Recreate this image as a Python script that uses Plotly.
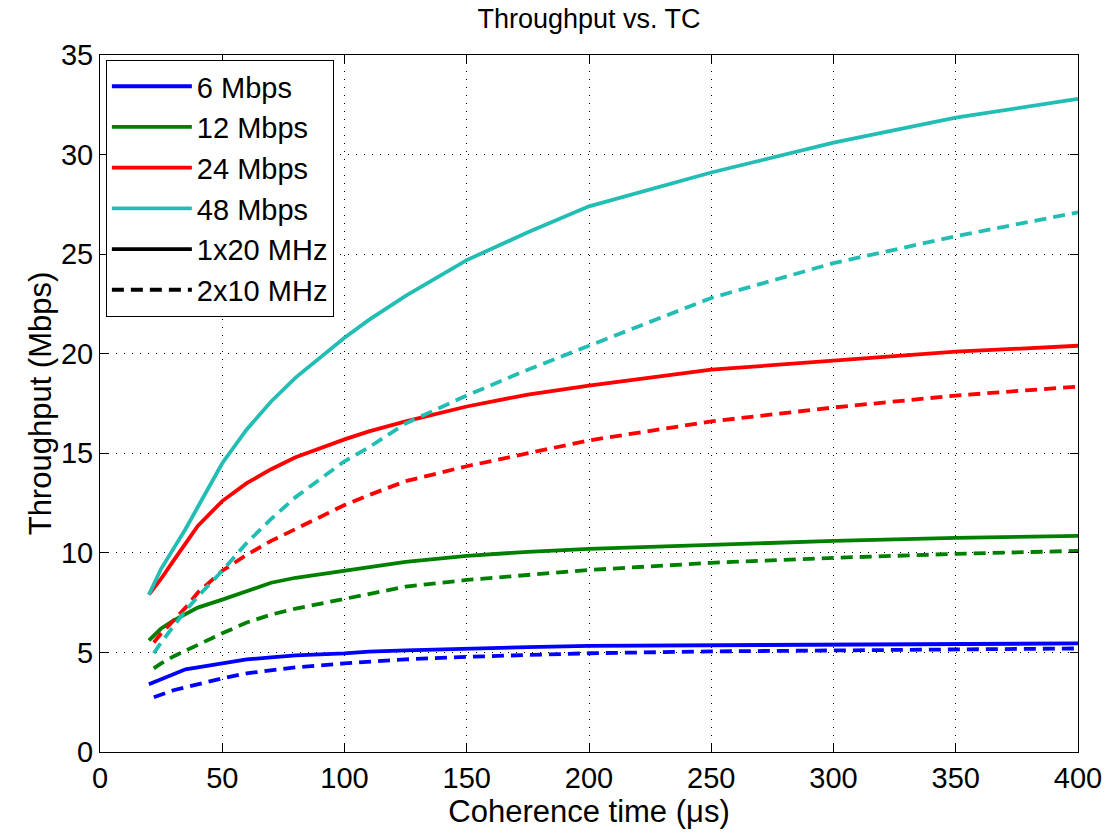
import plotly.graph_objects as go

# Coherence time (µs)
x_1x20 = [20, 25, 30, 35, 40, 50, 60, 70, 80, 100, 110, 125, 150, 175, 200, 250, 300, 350, 400]
x_2x10 = [22, 25, 30, 35, 40, 50, 60, 70, 80, 100, 110, 125, 150, 175, 200, 250, 300, 350, 400]

# Throughput (Mbps), 1x20 MHz (solid)
s6_1x20  = [3.4, 3.65, 3.95, 4.15, 4.25, 4.45, 4.65, 4.75, 4.85, 4.95, 5.04, 5.1, 5.2, 5.27, 5.33, 5.36, 5.4, 5.42, 5.45]
s12_1x20 = [5.6, 6.2, 6.6, 6.95, 7.25, 7.65, 8.1, 8.5, 8.75, 9.1, 9.3, 9.55, 9.85, 10.05, 10.2, 10.4, 10.6, 10.75, 10.85]
s24_1x20 = [7.9, 8.7, 9.6, 10.5, 11.35, 12.6, 13.5, 14.2, 14.8, 15.7, 16.1, 16.6, 17.35, 17.95, 18.4, 19.2, 19.65, 20.1, 20.4]
s48_1x20 = [7.9, 9.2, 10.2, 11.2, 12.3, 14.5, 16.2, 17.6, 18.8, 20.8, 21.7, 22.9, 24.7, 26.1, 27.4, 29.1, 30.6, 31.85, 32.8]

# Throughput (Mbps), 2x10 MHz (dashed)
s6_2x10  = [2.75, 2.9, 3.1, 3.25, 3.4, 3.7, 3.95, 4.1, 4.25, 4.45, 4.54, 4.65, 4.78, 4.88, 4.96, 5.05, 5.1, 5.15, 5.2]
s12_2x10 = [4.2, 4.45, 4.8, 5.1, 5.4, 5.96, 6.5, 6.9, 7.2, 7.7, 7.95, 8.3, 8.64, 8.9, 9.14, 9.5, 9.75, 9.95, 10.1]
s24_2x10 = [5.5, 5.95, 6.6, 7.25, 8.0, 9.1, 9.9, 10.6, 11.2, 12.4, 12.9, 13.6, 14.35, 15.0, 15.65, 16.6, 17.3, 17.9, 18.35]
s48_2x10 = [4.96, 5.5, 6.3, 7.1, 7.8, 9.1, 10.5, 11.7, 12.8, 14.6, 15.3, 16.5, 17.9, 19.2, 20.4, 22.8, 24.55, 25.9, 27.1]

rate_labels = ["6 Mbps", "12 Mbps", "24 Mbps", "48 Mbps"]
mode_labels = ["1x20 MHz", "2x10 MHz"]
colors = ["#0000FF", "#008000", "#FF0000", "#22BDB3"]

solid_series = [s6_1x20, s12_1x20, s24_1x20, s48_1x20]
dashed_series = [s6_2x10, s12_2x10, s24_2x10, s48_2x10]

LW = 3.8
DASH = "12px,7px"
FONT = "Liberation Sans, Arial, sans-serif"

fig = go.Figure()

for ys, c in zip(solid_series, colors):
    fig.add_trace(go.Scatter(x=x_1x20, y=ys, mode="lines", line=dict(color=c, width=LW),
                             showlegend=False, hoverinfo="skip"))
for ys, c in zip(dashed_series, colors):
    fig.add_trace(go.Scatter(x=x_2x10, y=ys, mode="lines", line=dict(color=c, width=LW, dash=DASH),
                             showlegend=False, hoverinfo="skip"))

# legend entries
for i, (lab, c) in enumerate(zip(rate_labels, colors)):
    fig.add_trace(go.Scatter(x=[None], y=[None], mode="lines", name=lab,
                             line=dict(color=c, width=LW), legendgroup=f"g{i}"))
fig.add_trace(go.Scatter(x=[None], y=[None], mode="lines", name=mode_labels[0],
                         line=dict(color="black", width=LW), legendgroup="g4"))
fig.add_trace(go.Scatter(x=[None], y=[None], mode="lines", name=mode_labels[1],
                         line=dict(color="black", width=LW, dash=DASH), legendgroup="g5"))

axis_common = dict(
    showline=True, linecolor="black", linewidth=1, mirror="ticks",
    ticks="inside", ticklen=8, tickcolor="black", tickwidth=1,
    showgrid=True, gridcolor="black", gridwidth=1, griddash="1px,7px",
    zeroline=False, tickfont=dict(family=FONT, size=29, color="black"),
)

fig.update_layout(
    width=1114, height=833,
    margin=dict(l=100, r=31, t=55, b=81),
    paper_bgcolor="white", plot_bgcolor="white",
    font=dict(family=FONT, color="black"),
    title=dict(text="Throughput vs. TC", x=0.5, xref="paper", y=0.978, yref="container",
               xanchor="center", yanchor="middle", font=dict(family=FONT, size=27, color="black")),
    xaxis=dict(range=[0, 400], tickvals=[0, 50, 100, 150, 200, 250, 300, 350, 400],
               title=dict(text="Coherence time (μs)", font=dict(family=FONT, size=31), standoff=0),
               **axis_common),
    yaxis=dict(range=[0, 35], tickvals=[0, 5, 10, 15, 20, 25, 30, 35],
               title=dict(text="Throughput (Mbps)", font=dict(family=FONT, size=31), standoff=0),
               **axis_common),
    legend=dict(x=0.006, y=0.993, xanchor="left", yanchor="top",
                bgcolor="white", bordercolor="black", borderwidth=1,
                font=dict(family=FONT, size=29, color="black"),
                itemwidth=80,
                traceorder="grouped", tracegroupgap=0),
    showlegend=True,
)

fig.write_html("out.html")
